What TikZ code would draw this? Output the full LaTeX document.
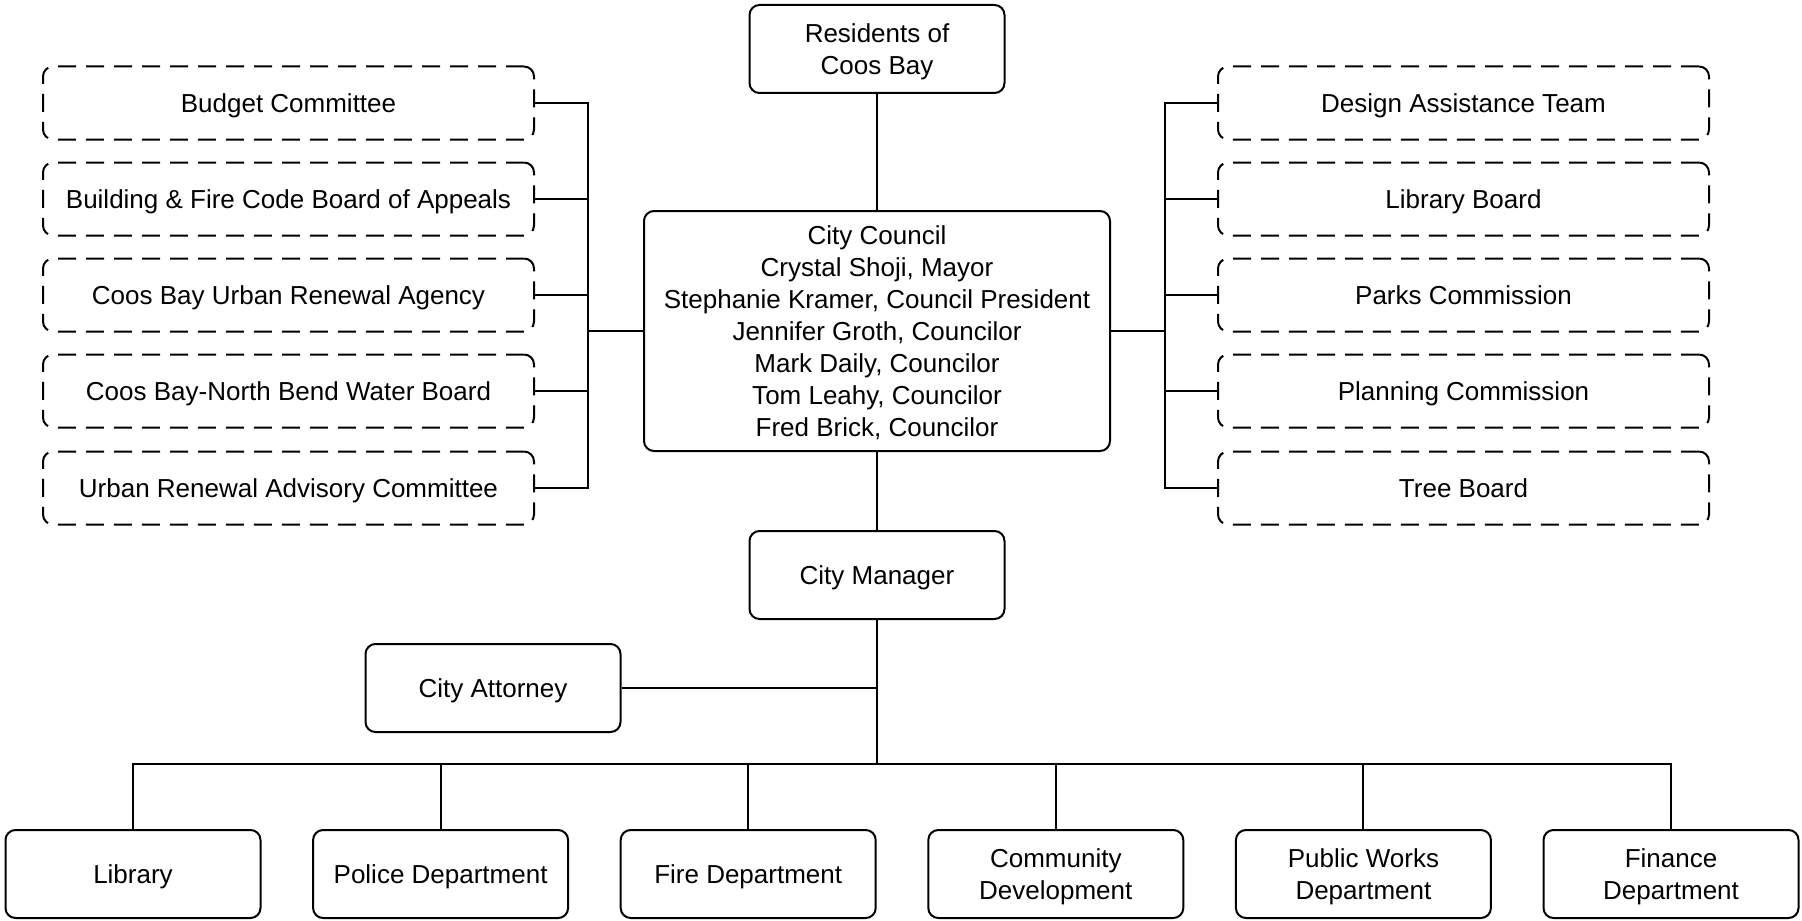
\documentclass[tikz,border=0pt]{standalone}
\usepackage{fontspec}
\setmainfont{Liberation Sans}

\begin{document}
\begin{tikzpicture}
  [x=0.5pt,y=-0.5pt,line width=1pt,
   box/.style={draw,rounded corners=5pt,align=center,inner sep=0pt,text depth=0pt,
     minimum width=127.5pt,minimum height=44pt,font=\fontsize{13}{16}\selectfont},
   lines/.style={text depth=-1.2pt},
   board/.style={box,dash pattern=on 9pt off 5pt,minimum width=245.5pt,minimum height=36.5pt}]
  \useasboundingbox (0,0) rectangle (1802,920);
  \node[box,lines] (res) at (877,49) {Residents of\\Coos Bay};
  \node[box,lines,minimum width=233pt,minimum height=120pt] (cc) at (877,331)
    {City Council\\Crystal Shoji, Mayor\\Stephanie Kramer, Council President\\Jennifer Groth, Councilor\\Mark Daily, Councilor\\Tom Leahy, Councilor\\Fred Brick, Councilor};
  \node[box] (cm) at (877,575) {City Manager};
  \node[box] (ca) at (493,688) {City Attorney};
  \coordinate (lbar) at (588,331);
  \coordinate (rbar) at (1165,331);
  \coordinate (bus) at (877,764);

  \foreach \n/\y/\txt in {1/103/{Budget Committee},2/199/{Building \& Fire Code Board of Appeals},
      3/295/{Coos Bay Urban Renewal Agency},4/391/{Coos Bay-North Bend Water Board},
      5/488/{Urban Renewal Advisory Committee}}
    \node[board] (l\n) at (288.5,\y) {\txt};
  \foreach \n/\y/\txt in {1/103/{Design Assistance Team},2/199/{Library Board},
      3/295/{Parks Commission},4/391/{Planning Commission},5/488/{Tree Board}}
    \node[board] (r\n) at (1463.5,\y) {\txt};
  \foreach \n/\x/\txt in {1/133/{Library},2/440.6/{Police Department},3/748.2/{Fire Department},
      4/1055.8/{Community\\Development},5/1363.4/{Public Works\\Department},6/1671/{Finance\\Department}}
    \node[box,lines] (d\n) at (\x,874) {\txt};

  \draw (res) -- (cc);
  \draw (cc) -- (cm);
  \draw (cm) -- (bus);
  \draw (ca) -- (ca -| cm);
  \draw (cc.west) -- (lbar);
  \draw (cc.east) -- (rbar);
  \foreach \n in {1,...,5} {
    \draw (l\n.east) -| (lbar);
    \draw (r\n.west) -| (rbar);
  }
  \foreach \n in {1,...,6}
    \draw (d\n) |- (bus);

\end{tikzpicture}
\end{document}
